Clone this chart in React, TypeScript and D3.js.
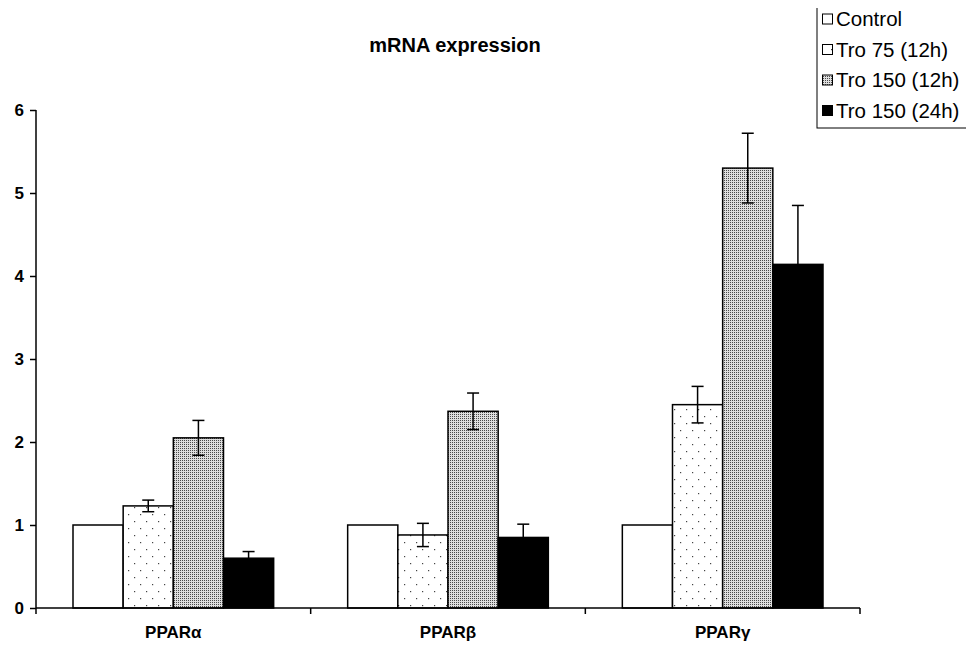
import * as d3 from 'd3';
import * as React from 'react';

const categories = ['PPARα', 'PPARβ', 'PPARγ'];
const seriesNames = ['Control', 'Tro 75 (12h)', 'Tro 150 (12h)', 'Tro 150 (24h)'];
const control = [1, 1, 1];
const tro75 = [1.23, 0.88, 2.45];
const tro150_12 = [2.05, 2.37, 5.3];
const tro150_24 = [0.6, 0.85, 4.14];
const tro75Err = [0.07, 0.14, 0.22];
const tro150_12Err = [0.21, 0.22, 0.42];
const tro150_24Err = [0.08, 0.16, 0.71];
const yTicks = [0, 1, 2, 3, 4, 5, 6];

const fills = ['#ffffff', 'url(#sparseDots)', 'url(#denseDots)', '#000000'];
const font = 'Arial, "Liberation Sans", sans-serif';

const App = () => {
  const ref = React.useRef<SVGSVGElement>(null);

  React.useEffect(() => {
    const svg = d3.select(ref.current);
    svg.selectAll('*').remove();

    const defs = svg.append('defs');
    const sp = defs.append('pattern').attr('id', 'sparseDots').attr('patternUnits', 'userSpaceOnUse')
      .attr('width', 12).attr('height', 14);
    sp.append('rect').attr('width', 12).attr('height', 14).attr('fill', '#fff');
    sp.append('rect').attr('x', 2).attr('y', 3).attr('width', 1.2).attr('height', 1.2).attr('fill', '#444');
    sp.append('rect').attr('x', 8).attr('y', 10).attr('width', 1.2).attr('height', 1.2).attr('fill', '#444');
    const dp = defs.append('pattern').attr('id', 'denseDots').attr('patternUnits', 'userSpaceOnUse')
      .attr('width', 2).attr('height', 2);
    dp.append('rect').attr('width', 2).attr('height', 2).attr('fill', '#dedede');
    dp.append('rect').attr('width', 1).attr('height', 1).attr('fill', '#4a4a4a');

    const left = 36, right = 860, top = 110, bottom = 608;
    const x0 = d3.scaleBand().domain(categories).range([left, right]).padding(0);
    const gap = 37;
    const x1 = d3.scaleBand().domain(seriesNames).range([gap, x0.bandwidth() - gap]).padding(0);
    const y = d3.scaleLinear().domain([0, 6]).range([bottom, top]);

    const values = [control, tro75, tro150_12, tro150_24];
    const errs = [null, tro75Err, tro150_12Err, tro150_24Err];

    const g = svg.append('g');
    categories.forEach((c, ci) => {
      seriesNames.forEach((s, si) => {
        const bx = (x0(c) as number) + (x1(s) as number);
        const v = values[si][ci];
        g.append('rect')
          .attr('x', bx).attr('y', y(v))
          .attr('width', x1.bandwidth()).attr('height', y(0) - y(v))
          .attr('fill', fills[si]).attr('stroke', '#000').attr('stroke-width', 1.5);
      });
    });

    // error bars
    categories.forEach((c, ci) => {
      seriesNames.forEach((s, si) => {
        const e = errs[si];
        if (!e) return;
        const cx = (x0(c) as number) + (x1(s) as number) + x1.bandwidth() / 2;
        const v = values[si][ci];
        g.append('line').attr('x1', cx).attr('x2', cx).attr('y1', y(v - e[ci])).attr('y2', y(v + e[ci]))
          .attr('stroke', '#000').attr('stroke-width', 1.5);
        [v - e[ci], v + e[ci]].forEach((yy) => {
          g.append('line').attr('x1', cx - 6).attr('x2', cx + 6).attr('y1', y(yy)).attr('y2', y(yy))
            .attr('stroke', '#000').attr('stroke-width', 1.5);
        });
      });
    });

    // y axis
    const yAxis = svg.append('g').attr('transform', `translate(${left},0)`)
      .call(d3.axisLeft(y).tickValues(yTicks).tickSize(6).tickPadding(6).tickFormat(d3.format('d')));
    yAxis.selectAll('path, line').attr('stroke', '#000').attr('stroke-width', 1.5);
    yAxis.select('.domain').attr('d', `M0,${top}V${bottom}`);
    yAxis.selectAll('text').style('font-family', font)
      .style('font-size', '17px').style('font-weight', 'bold').attr('fill', '#000');

    // x axis
    const xAxisG = svg.append('g').attr('transform', `translate(0,${bottom})`);
    xAxisG.append('line').attr('x1', left).attr('x2', right).attr('y1', 0).attr('y2', 0)
      .attr('stroke', '#000').attr('stroke-width', 1.5);
    [...categories.map((c) => x0(c) as number), right].forEach((tx) => {
      xAxisG.append('line').attr('x1', tx).attr('x2', tx).attr('y1', 0).attr('y2', 6)
        .attr('stroke', '#000').attr('stroke-width', 1.5);
    });
    categories.forEach((c) => {
      xAxisG.append('text').attr('x', (x0(c) as number) + x0.bandwidth() / 2).attr('y', 30)
        .attr('text-anchor', 'middle').style('font-family', font)
        .style('font-size', '17px').style('font-weight', 'bold').text(c);
    });

    svg.append('text').attr('x', 455).attr('y', 52).attr('text-anchor', 'middle')
      .style('font-family', font).style('font-size', '20px')
      .style('font-weight', 'bold').text('mRNA expression');

    // legend
    const lg = svg.append('g').attr('transform', 'translate(817,4)');
    lg.append('rect').attr('width', 154).attr('height', 124).attr('fill', '#fff')
      .attr('stroke', '#000').attr('stroke-width', 1);
    seriesNames.forEach((s, i) => {
      const yy = 15 + i * 30.5;
      lg.append('rect').attr('x', 5.5).attr('y', yy - 5).attr('width', 10).attr('height', 10)
        .attr('fill', fills[i]).attr('stroke', '#000').attr('stroke-width', 1);
      lg.append('text').attr('x', 19).attr('y', yy + 7)
        .style('font-family', font).style('font-size', '20.5px').text(s);
    });
  }, []);

  return (
    <div style={{ margin: -8 }}>
      <svg ref={ref} width={974} height={651} style={{ display: 'block', background: '#fff' }} />
    </div>
  );
};

export default App;
